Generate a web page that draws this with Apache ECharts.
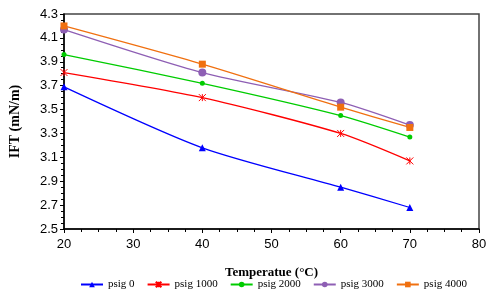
<!DOCTYPE html>
<html>
<head>
<meta charset="utf-8">
<script src="https://cdn.jsdelivr.net/npm/echarts@6/dist/echarts.min.js"></script>
<style>
  html, body { margin: 0; padding: 0; background: #fff; }
  #chart { width: 500px; height: 298px; }
</style>
</head>
<body>
<div id="chart"></div>
<script>
// temperature (°C)
const temps = [20, 40, 60, 70]
const psig0 = [3.69, 3.18, 2.85, 2.68]
const psig1000 = [3.81, 3.60, 3.30, 3.07]
const psig2000 = [3.96, 3.72, 3.45, 3.27]
const psig3000 = [4.17, 3.81, 3.56, 3.37]
const psig4000 = [4.20, 3.88, 3.52, 3.35]
const seriesNames = ['psig 0', 'psig 1000', 'psig 2000', 'psig 3000', 'psig 4000']
const seriesColors = ['#0000ff', '#ff0000', '#00cc00', '#8e5fb4', '#f07010']
const seriesSymbols = ['triangle', 'path://M0,0L10,10M10,0L0,10M5,0L5,10', 'circle', 'circle', 'rect']
const seriesSizes = [7, 7, 5, 8, 7]

const allData = [psig0, psig1000, psig2000, psig3000, psig4000]

let myChart = echarts.init(document.getElementById('chart'))
const axisBase = {
  axisLine: { show: true, onZero: false, lineStyle: { color: '#000', width: 1.5 } },
  axisTick: { show: true, inside: false, length: 4, lineStyle: { color: '#000' } },
  splitLine: { show: false }
}
myChart.setOption({
  animation: false,
  grid: {
    left: 62, right: 21, top: 14, bottom: 69,
    show: true, borderColor: '#444', borderWidth: 1.5
  },
  legend: {
    bottom: 3,
    left: 75,
    right: 0,
    itemWidth: 22,
    itemHeight: 7,
    itemGap: 12,
    data: seriesNames,
    textStyle: { fontFamily: 'Liberation Serif', fontSize: 11, color: '#000' }
  },
  xAxis: Object.assign({}, axisBase, {
    type: 'value',
    min: 20, max: 80, interval: 10,
    minorTick: { show: true, splitNumber: 4, length: 3, lineStyle: { color: '#000' } },
    name: 'Temperatue (°C)',
    nameLocation: 'middle',
    nameGap: 37,
    nameTextStyle: { fontFamily: 'Liberation Serif', fontWeight: 'bold', fontSize: 13, color: '#000' },
    axisLabel: { color: '#000', fontFamily: 'Liberation Sans', fontSize: 13, margin: 9 }
  }),
  yAxis: Object.assign({}, axisBase, {
    type: 'value',
    min: 2.5, max: 4.3, interval: 0.2,
    minorTick: { show: true, splitNumber: 4, length: 3, lineStyle: { color: '#000' } },
    name: 'IFT (mN/m)',
    nameLocation: 'middle',
    nameGap: 42,
    nameTextStyle: { fontFamily: 'Liberation Serif', fontWeight: 'bold', fontSize: 14, color: '#000' },
    axisLabel: {
      color: '#000', fontFamily: 'Liberation Sans', fontSize: 13, margin: 6,
      formatter: v => v.toFixed(1)
    }
  }),
  series: seriesNames.map((name, i) => ({
    name: name,
    type: 'line',
    smooth: 0.25,
    data: temps.map((t, j) => [t, allData[i][j]]),
    symbol: seriesSymbols[i],
    symbolSize: seriesSizes[i],
    itemStyle: { color: seriesColors[i], borderColor: seriesColors[i], borderWidth: i === 1 ? 1 : 0 },
    lineStyle: { color: seriesColors[i], width: 1.3 }
  }))
})
</script>
</body>
</html>
